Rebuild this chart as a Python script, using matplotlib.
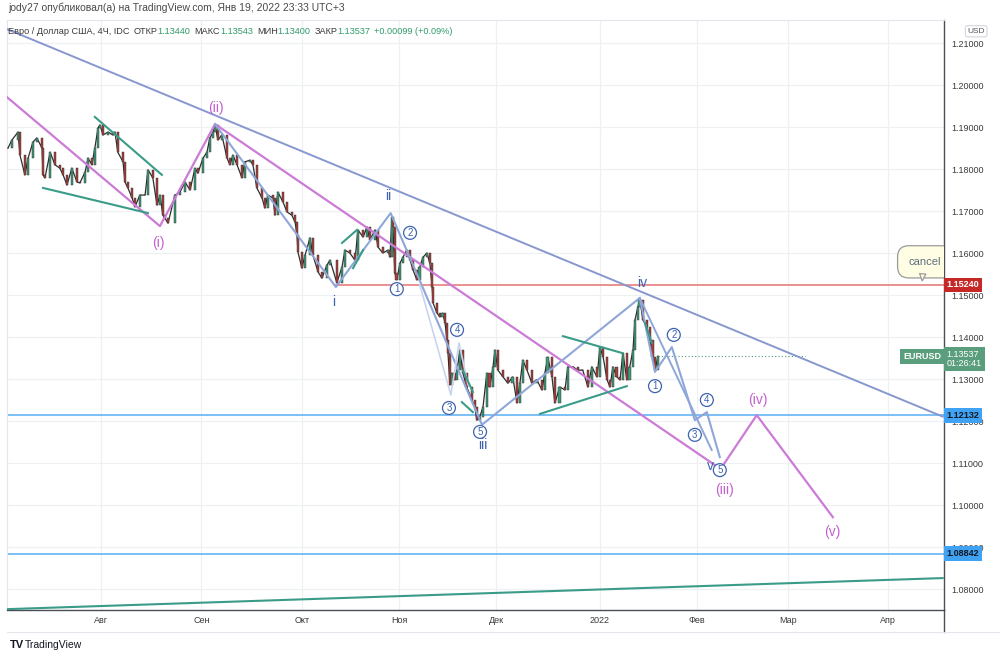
import numpy as np
import matplotlib.pyplot as plt
from matplotlib.lines import Line2D

plt.rcParams['font.family'] = ['Liberation Sans', 'DejaVu Sans']

# x = days since 1 Jul 2021, price in USD
days = [2.3, 3.5, 5.4, 6.0, 7.5, 8.5, 10.0, 11.2, 12.8, 13.1, 13.7, 15.3, 16.8, 18.3, 19.3, 20.5, 22.0, 23.6, 24.5, 26.1,
        27.0, 28.2, 29.1, 30.1, 30.7, 31.6, 33.2, 34.7, 35.3, 36.2, 37.8, 38.4, 39.3, 40.6, 41.5, 43.0, 44.6, 45.5, 47.0, 48.3,
        49.2, 50.1, 50.7, 51.7, 53.8, 55.4, 56.9, 58.5, 60.0, 60.9, 62.5, 63.7, 64.6, 65.6, 66.2, 67.1, 68.3, 69.9, 70.8, 71.7,
        73.0, 74.5, 75.4, 77.0, 77.9, 79.1, 80.7, 81.6, 82.5, 84.1, 84.7, 85.6, 87.2, 88.4, 89.9, 90.9, 91.5, 91.8, 93.0, 94.0,
        95.5, 96.4, 98.0, 99.2, 100.7, 101.7, 103.8, 105.4, 106.3, 107.8, 109.4, 110.3, 111.9, 113.1, 114.0, 115.6, 116.5, 118.0,
        119.6, 120.2, 120.8, 121.1, 121.7, 122.3, 123.3, 124.2, 125.4, 126.4, 127.3, 128.5, 129.4, 130.4, 131.6, 132.5, 133.2,
        133.5, 134.7, 135.6, 136.5, 137.2, 137.8, 138.1, 138.7, 139.3, 140.2, 140.9, 141.8, 142.7, 143.9, 145.5, 146.4, 147.0,
        147.9, 148.9, 150.1, 151.0, 152.0, 152.6, 153.5, 155.1, 156.6, 158.1, 159.4, 160.3, 161.2, 162.5, 164.0, 165.5, 167.1,
        168.0, 168.9, 170.2, 171.1, 172.6, 174.2, 175.1, 176.7, 178.2, 179.7, 181.3, 182.5, 184.1, 185.0, 186.0, 187.2, 188.1,
        189.0, 190.2, 191.2, 192.1, 193.3, 194.2, 195.2, 195.8, 196.7, 197.3, 198.3, 199.5, 200.4, 201.3, 202.0, 202.9]
closes = [1.1850, 1.1869, 1.1888, 1.1833, 1.1786, 1.1826, 1.1864, 1.1874, 1.1850, 1.1786, 1.1779, 1.1840, 1.1810, 1.1802,
          1.1786, 1.1762, 1.1802, 1.1769, 1.1767, 1.1793, 1.1826, 1.1810, 1.1850, 1.1898, 1.1905, 1.1881, 1.1888, 1.1881,
          1.1888, 1.1840, 1.1817, 1.1769, 1.1755, 1.1731, 1.1710, 1.1738, 1.1738, 1.1798, 1.1779, 1.1714, 1.1738, 1.1690,
          1.1683, 1.1671, 1.1738, 1.1745, 1.1769, 1.1750, 1.1802, 1.1790, 1.1826, 1.1840, 1.1874, 1.1888, 1.1905, 1.1869,
          1.1881, 1.1826, 1.1810, 1.1833, 1.1810, 1.1779, 1.1817, 1.1821, 1.1810, 1.1755, 1.1731, 1.1707, 1.1738, 1.1731,
          1.1690, 1.1745, 1.1721, 1.1698, 1.1690, 1.1674, 1.1643, 1.1602, 1.1564, 1.1595, 1.1636, 1.1595, 1.1555, 1.1540,
          1.1571, 1.1583, 1.1529, 1.1567, 1.1607, 1.1600, 1.1583, 1.1655, 1.1638, 1.1662, 1.1631, 1.1655, 1.1614, 1.1600,
          1.1607, 1.1590, 1.1686, 1.1662, 1.1552, 1.1536, 1.1576, 1.1590, 1.1607, 1.1583, 1.1560, 1.1536, 1.1567, 1.1590,
          1.1600, 1.1576, 1.1519, 1.1481, 1.1457, 1.1448, 1.1457, 1.1433, 1.1393, 1.1362, 1.1286, 1.1314, 1.1298, 1.1321,
          1.1369, 1.1314, 1.1281, 1.1250, 1.1233, 1.1202, 1.1210, 1.1233, 1.1314, 1.1281, 1.1329, 1.1369, 1.1321, 1.1305,
          1.1290, 1.1305, 1.1243, 1.1290, 1.1345, 1.1321, 1.1290, 1.1298, 1.1274, 1.1314, 1.1352, 1.1305, 1.1243, 1.1281,
          1.1274, 1.1329, 1.1329, 1.1321, 1.1321, 1.1281, 1.1329, 1.1305, 1.1376, 1.1352, 1.1298, 1.1281, 1.1329, 1.1305,
          1.1298, 1.1362, 1.1298, 1.1329, 1.1369, 1.1440, 1.1471, 1.1488, 1.1440, 1.1424, 1.1393, 1.1352, 1.1321, 1.1354]

month_pos = [31, 62, 93, 123, 153, 185, 215, 243, 274]
month_labels = ['Авг', 'Сен', 'Окт', 'Ноя', 'Дек', '2022', 'Фев', 'Мар', 'Апр']
price_ticks = [1.08, 1.09, 1.10, 1.11, 1.12, 1.13, 1.14, 1.15, 1.16, 1.17, 1.18, 1.19, 1.20, 1.21]

# drawn lines
trend_x, trend_y = [2.0, 290.8], [1.2133, 1.12105]
pink_x = [2.0, 49.2, 66.2, 220.5]
pink_y = [1.1971, 1.1664, 1.1907, 1.1095]
pink2_x = [222.0, 233.4, 256.9]
pink2_y = [1.1083, 1.1214, 1.0971]
blue_x = [66.2, 103.5, 120.4, 148.6, 197.3, 202.0, 207.2, 214.3, 218.0, 222.0]
blue_y = [1.1907, 1.1519, 1.1695, 1.1191, 1.1493, 1.1317, 1.1376, 1.1202, 1.1221, 1.1114]
blue2_x, blue2_y = [197.3, 219.5], [1.1493, 1.1131]
faint_x = [129.4, 139.0, 141.5, 144.3]
faint_y = [1.1524, 1.1262, 1.1386, 1.1286]
teal_segs = [
    ([13.1, 45.5], [1.1755, 1.1695]),
    ([29.1, 49.8], [1.1924, 1.1786]),
    ([105.4, 110.0], [1.1624, 1.1655]),
    ([108.8, 111.9], [1.1564, 1.1607]),
    ([142.7, 145.8], [1.1321, 1.1269]),
    ([142.4, 145.8], [1.1245, 1.1221]),
    ([173.6, 191.8], [1.1402, 1.1362]),
    ([166.5, 193.3], [1.1217, 1.1283]),
    ([198.9, 201.0], [1.1433, 1.1386]),
    ([2.0, 290.8], [1.0752, 1.0826]),
]
red_level, red_start = 1.15240, 103.2
blue_levels = [1.12132, 1.08842]
last_price = 1.13537

pink_labels = [('(ii)', 66.5, 1.1945), ('(i)', 48.6, 1.1624), ('(iii)', 223.3, 1.1036),
               ('(iv)', 233.7, 1.1250), ('(v)', 256.6, 1.0936)]
blue_labels = [('ii', 119.6, 1.1736), ('i', 102.9, 1.1483), ('iii', 148.9, 1.1143),
               ('iv', 198.0, 1.1529), ('v', 219.2, 1.1093)]
circle_labels = [('1', 122.3, 1.1514), ('2', 126.4, 1.1648), ('3', 138.4, 1.1231), ('4', 140.9, 1.1417),
                 ('5', 148.0, 1.1174), ('1', 202.0, 1.1283), ('2', 207.8, 1.1405), ('3', 214.3, 1.1167),
                 ('4', 218.0, 1.1250), ('5', 222.0, 1.1083)]

W, H = 1000, 659
fig = plt.figure(figsize=(10, 6.59), dpi=100)
ax = fig.add_axes([7 / W, 1 - 610 / H, 937 / W, 590 / H])
ax.set_xlim(1.99, 291.2)
ax.set_ylim(1.07500, 1.21548)

# candles
closes_a = np.array(closes)
opens_a = np.concatenate([[closes_a[0]], closes_a[:-1]])
up = closes_a >= opens_a
cols = np.where(up, '#3f9a78', '#a8403c')
ax.plot(days, closes, color='#2e2e2e', lw=0.9, zorder=2.8)
ax.bar(days, closes_a - opens_a, bottom=opens_a, width=0.8, color=cols,
       edgecolor='#2a2a2a', linewidth=0.3, zorder=3)

# horizontal levels
ax.hlines(red_level, red_start, 291.2, color='#e57373', lw=1.1, zorder=2)
for lv in blue_levels:
    ax.axhline(lv, color='#64b5f6', lw=1.2, zorder=2)
ax.hlines(last_price, days[-1], 248.2, color='#4f9a77', lw=0.8, linestyles=(0, (1, 2)), zorder=2)

# drawings
ax.plot(trend_x, trend_y, color='#8797cf', lw=1.4, zorder=4)
ax.plot(pink_x, pink_y, color='#cc7bd6', lw=1.6, zorder=4)
ax.plot(pink2_x, pink2_y, color='#cc7bd6', lw=1.6, zorder=4)
ax.plot(blue_x, blue_y, color='#8ea6d8', lw=1.5, zorder=4)
ax.plot(blue2_x, blue2_y, color='#8ea6d8', lw=1.4, zorder=4)
ax.plot(faint_x, faint_y, color='#c9d4ef', lw=1.2, zorder=4)
for sx, sy in teal_segs:
    ax.plot(sx, sy, color='#3a9c88', lw=1.5, zorder=4)

for t, x, y in pink_labels:
    ax.text(x, y, t, color='#c45fcf', fontsize=10, ha='center', va='center', zorder=6)
for t, x, y in blue_labels:
    ax.text(x, y, t, color='#3d63b0', fontsize=10, ha='center', va='center', zorder=6)
for t, x, y in circle_labels:
    ax.text(x, y, t, color='#3d63b0', fontsize=7, ha='center', va='center', zorder=6,
            bbox=dict(boxstyle='circle,pad=0.15', fc='white', ec='#3d63b0', lw=0.9))

cb = ax.text(280.3, 1.1579, 'cancel', fontsize=8, color='#5d6f80', ha='left', va='center', zorder=7,
             clip_on=True,
             bbox=dict(boxstyle='round,pad=1.0,rounding_size=1.0', fc='#fffde3', ec='#9a9a9a', lw=0.9))
cb.get_bbox_patch().set_clip_on(True)
ax.annotate('', xy=(284.4, 1.1527), xytext=(284.7, 1.1557), zorder=7,
            arrowprops=dict(arrowstyle='wedge,tail_width=0.45,shrink_factor=0.5', fc='#fffde3',
                            ec='#9a9a9a', lw=0.9))

# grid & axes
ax.set_yticks(price_ticks)
ax.set_yticklabels([f'{v:.5f}' for v in price_ticks])
ax.set_xticks(month_pos)
ax.set_xticklabels(month_labels)
ax.grid(True, color='#eef0f4', lw=0.9, zorder=0)
ax.set_axisbelow(True)
ax.yaxis.tick_right()
ax.tick_params(axis='y', length=0, pad=5, labelsize=6.5, labelcolor='#3a3a3a')
ax.tick_params(axis='x', length=0, pad=4, labelsize=6.5, labelcolor='#3a3a3a')
for s in ['top', 'left']:
    ax.spines[s].set_color('#e3e6ec')
    ax.spines[s].set_linewidth(0.8)
for s in ['bottom', 'right']:
    ax.spines[s].set_color('#4b4e58')
    ax.spines[s].set_linewidth(1.0)

ytr = ax.get_yaxis_transform()
ax.text(1.003, red_level, f'{red_level:.5f}', transform=ytr, fontsize=6.5, color='white', weight='bold',
        ha='left', va='center', zorder=8, clip_on=False,
        bbox=dict(boxstyle='square,pad=0.3', fc='#c62828', ec='none'))
for lv in blue_levels:
    ax.text(1.003, lv, f'{lv:.5f}', transform=ytr, fontsize=6.5, color='#131722', weight='bold',
            ha='left', va='center', zorder=8, clip_on=False,
            bbox=dict(boxstyle='square,pad=0.3', fc='#3fa2f2', ec='none'))
ax.annotate(f'{last_price:.5f}\n01:26:41', xy=(1.003, last_price), xycoords=ytr, xytext=(0, 5),
            textcoords='offset points', fontsize=6.5, color='white', ha='left', va='top', zorder=8,
            annotation_clip=False, linespacing=1.1,
            bbox=dict(boxstyle='square,pad=0.3', fc='#5b9e7e', ec='none'))
ax.text(0.997, last_price, 'EURUSD', transform=ytr, fontsize=6.5, color='white', weight='bold',
        ha='right', va='center', zorder=8,
        bbox=dict(boxstyle='square,pad=0.3', fc='#5b9e7e', ec='none'))
ax.text(1.025, 1.2128, 'USD', transform=ytr, fontsize=6, color='#555555', ha='left', va='center',
        clip_on=False, bbox=dict(boxstyle='round,pad=0.25', fc='white', ec='#d3d6de', lw=0.8))

# frame pieces below the axes
fig.add_artist(Line2D([944 / W, 944 / W], [1 - 632 / H, 1 - 610 / H], color='#4b4e58', lw=1.0))
fig.add_artist(Line2D([7 / W, 1.0], [1 - 632 / H, 1 - 632 / H], color='#e3e6ec', lw=0.8))

# header texts
fig.text(8 / W, 1 - 8 / H, 'jody27 опубликовал(а) на TradingView.com, Янв 19, 2022 23:33 UTC+3',
         fontsize=7.5, color='#4a4a4a', va='center')
header = [('Евро / Доллар США, 4Ч, IDC', '#3a3a3a', 0), ('ОТКР', '#3a3a3a', 4), ('1.13440', '#2e9a6a', 0),
          ('МАКС', '#3a3a3a', 4), ('1.13543', '#2e9a6a', 0), ('МИН', '#3a3a3a', 4),
          ('1.13400', '#2e9a6a', 0), ('ЗАКР', '#3a3a3a', 4), ('1.13537', '#2e9a6a', 0),
          ('+0.00099 (+0.09%)', '#2e9a6a', 3)]
renderer = fig.canvas.get_renderer()
xpos = 8
for t, c, gap in header:
    xpos += gap
    txt = fig.text(xpos / W, 1 - 32 / H, t, fontsize=6.6, color=c, va='center')
    xpos = txt.get_window_extent(renderer).x1

fig.text(10 / W, 1 - 645 / H, 'TV', fontsize=8, weight='bold', color='#131722', va='center')
fig.text(25 / W, 1 - 645 / H, 'TradingView', fontsize=7.5, color='#131722', va='center')

fig.savefig('out.png', dpi=100)
